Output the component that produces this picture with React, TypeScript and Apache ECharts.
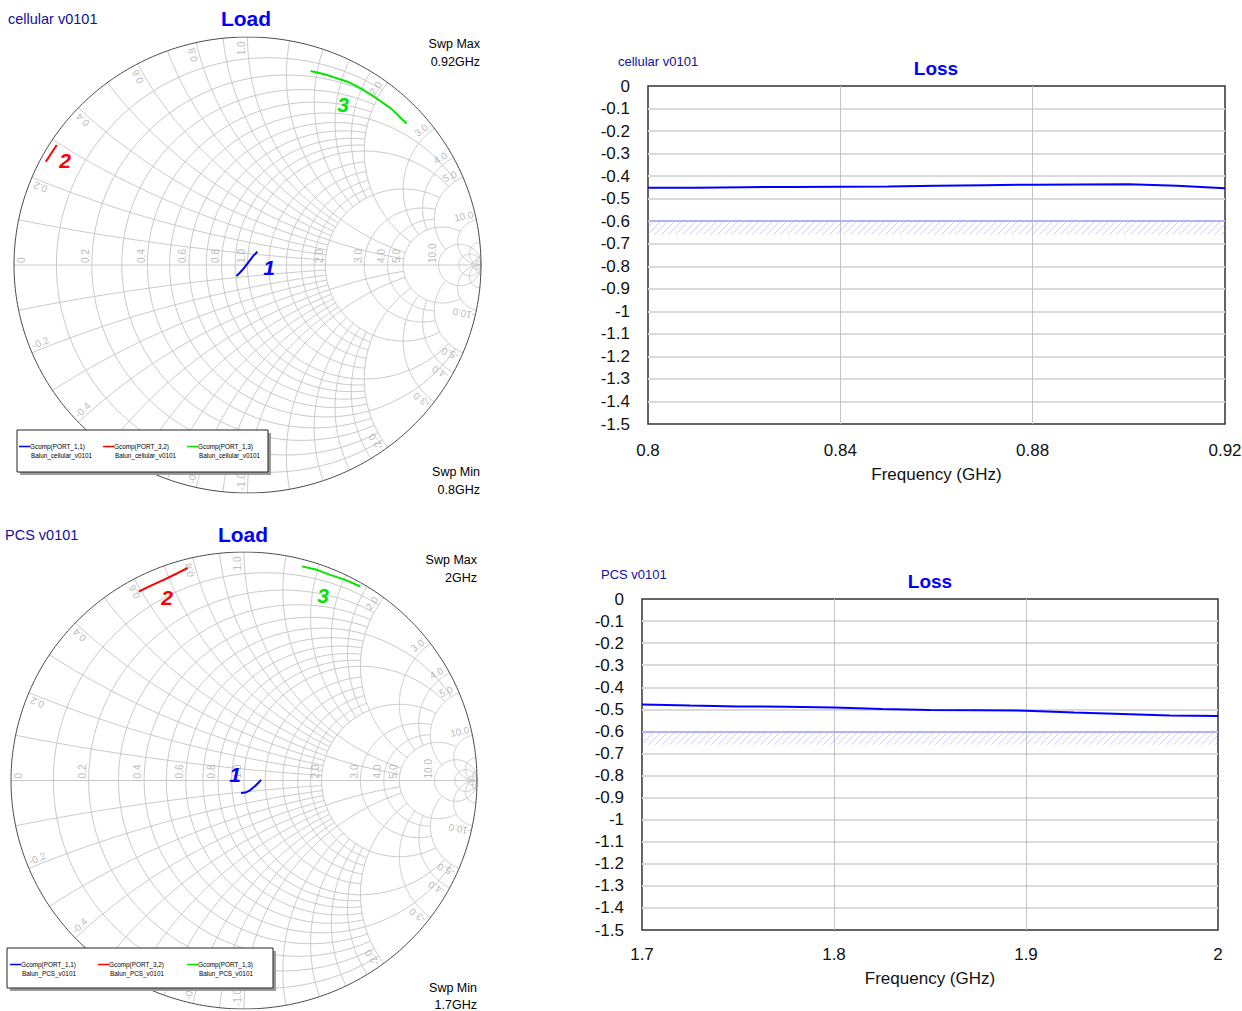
import React, { useEffect, useRef } from 'react';
import * as echarts from 'echarts';

const FONT = "'Liberation Sans', Arial, sans-serif";

// ---- Smith chart traces: reflection coefficient [re, im] ----
const CELL_G11: number[][] = [[-0.047, -0.048], [-0.033, -0.034], [-0.016, -0.015], [0.006, 0.015], [0.024, 0.039], [0.042, 0.058]];
const CELL_G32: number[][] = [[-0.864, 0.453], [-0.840, 0.490], [-0.817, 0.526]];
const CELL_G13: number[][] = [[0.270, 0.851], [0.342, 0.833], [0.428, 0.804], [0.485, 0.775], [0.542, 0.738], [0.614, 0.687], [0.681, 0.621]];

const PCS_G11: number[][] = [[-0.013, -0.055], [0.006, -0.053], [0.027, -0.042], [0.049, -0.023], [0.063, -0.009], [0.073, 0.003]];
const PCS_G32: number[][] = [[-0.452, 0.827], [-0.402, 0.852], [-0.345, 0.878], [-0.288, 0.906], [-0.242, 0.930]];
const PCS_G13: number[][] = [[0.249, 0.937], [0.313, 0.922], [0.370, 0.900], [0.435, 0.878], [0.499, 0.849]];

// ---- Loss traces ----
const CELL_FREQ = [0.80, 0.81, 0.82, 0.83, 0.84, 0.85, 0.86, 0.87, 0.88, 0.89, 0.90, 0.91, 0.92];
const CELL_LOSS = [-0.451, -0.451, -0.449, -0.448, -0.447, -0.446, -0.443, -0.440, -0.438, -0.437, -0.436, -0.443, -0.454];
const PCS_FREQ = [1.700, 1.725, 1.750, 1.775, 1.800, 1.825, 1.850, 1.875, 1.900, 1.925, 1.950, 1.975, 2.000];
const PCS_LOSS = [-0.478, -0.483, -0.487, -0.488, -0.492, -0.498, -0.503, -0.504, -0.506, -0.514, -0.521, -0.528, -0.530];
const LOSS_GOAL_TOP = -0.6;
const LOSS_GOAL_BOTTOM = -0.66;

// ---- Smith chart grid definitions: [value, extent] ----
const INF = Infinity;
const SMITH_R_GRID: number[][] = [
  [0.1, 2], [0.2, 2], [0.3, 2], [0.4, 2], [0.5, 5], [0.6, 2], [0.7, 2], [0.8, 2], [0.9, 2], [1.0, 5],
  [1.2, 2], [1.4, 2], [1.6, 2], [1.8, 2], [2, 5], [3, 5], [4, 5], [5, 10], [10, INF], [20, INF], [50, INF],
];
const SMITH_X_GRID: number[][] = [
  [0.1, 2], [0.2, 2], [0.3, 2], [0.4, 2], [0.5, 5], [0.6, 2], [0.7, 2], [0.8, 2], [0.9, 2], [1.0, 5],
  [1.2, 2], [1.4, 2], [1.6, 2], [1.8, 2], [2, 5], [3, 5], [4, 5], [5, 10], [10, INF], [20, INF], [50, INF],
];
const SMITH_R_LABELS = [0, 0.2, 0.4, 0.6, 0.8, 1, 2, 3, 4, 5, 10];
const SMITH_X_LABELS = [0.2, 0.4, 0.6, 0.8, 1, 2, 3, 4, 5, 10];

function z2g(r: number, x: number): number[] {
  const d = (r + 1) * (r + 1) + x * x;
  return [(r * r + x * x - 1) / d, (2 * x) / d];
}

function rCircle(r: number, xmax: number): number[][] {
  const c = r / (1 + r);
  const rad = 1 / (1 + r);
  let a0: number;
  if (!isFinite(xmax)) a0 = 0.0005;
  else {
    const g = z2g(r, xmax);
    a0 = Math.atan2(g[1], g[0] - c);
  }
  const a1 = 2 * Math.PI - a0;
  const pts: number[][] = [];
  const n = 180;
  for (let i = 0; i <= n; i++) {
    const a = a0 + ((a1 - a0) * i) / n;
    pts.push([c + rad * Math.cos(a), rad * Math.sin(a)]);
  }
  return pts;
}

function xArc(x: number, rmax: number): number[][] {
  const cy = 1 / x;
  const rad = Math.abs(1 / x);
  const p0 = z2g(0, x);
  const p1 = isFinite(rmax) ? z2g(rmax, x) : [1, 0];
  const b0 = Math.atan2(p0[1] - cy, p0[0] - 1);
  const b1 = Math.atan2(p1[1] - cy, p1[0] - 1);
  let d = b1 - b0;
  while (d > Math.PI) d -= 2 * Math.PI;
  while (d < -Math.PI) d += 2 * Math.PI;
  const pts: number[][] = [];
  const n = 120;
  for (let i = 0; i <= n; i++) {
    const b = b0 + (d * i) / n;
    pts.push([1 + rad * Math.cos(b), cy + rad * Math.sin(b)]);
  }
  return pts;
}

function smithGridSegments(): { coords: number[][] }[] {
  const segs: { coords: number[][] }[] = [];
  for (const [r, xm] of SMITH_R_GRID) segs.push({ coords: rCircle(r, xm) });
  for (const [x, rm] of SMITH_X_GRID) {
    segs.push({ coords: xArc(x, rm) });
    segs.push({ coords: xArc(-x, rm) });
  }
  segs.push({ coords: [[-1, 0], [1, 0]] });
  return segs;
}

function outerCircle(): { coords: number[][] }[] {
  const pts: number[][] = [];
  for (let i = 0; i <= 360; i++) {
    const a = (i / 360) * 2 * Math.PI;
    pts.push([Math.cos(a), Math.sin(a)]);
  }
  return [{ coords: pts }];
}

function rLabelItems() {
  return SMITH_R_LABELS.map((r) => {
    const g = (r - 1) / (r + 1);
    const gx = r === 0 ? -0.948 : g - 0.005;
    return { name: r === 0 ? '0' : r.toFixed(1), value: [gx, 0.009] };
  });
}

function xLabelItems() {
  const items: any[] = [];
  for (const xv of SMITH_X_LABELS) {
    for (const sgn of [1, -1]) {
      const x = xv * sgn;
      const g = z2g(0, x);
      const th = Math.atan2(g[1], g[0]);
      const ux = Math.cos(th);
      const uy = Math.sin(th);
      let nx = -Math.sin(th);
      let ny = Math.cos(th);
      if (x < 0) {
        nx = -nx;
        ny = -ny;
      }
      const deg = (th * 180) / Math.PI;
      const rot = x > 0 ? deg : deg + 180;
      items.push({
        name: (x < 0 ? '-' : '') + xv.toFixed(1),
        value: [ux * 0.95 + nx * 0.026, uy * 0.95 + ny * 0.026],
        label: { rotate: rot },
      });
    }
  }
  return items;
}

function hatchCanvas(): HTMLCanvasElement {
  const c = document.createElement('canvas');
  c.width = 7;
  c.height = 7;
  const ctx = c.getContext('2d')!;
  ctx.strokeStyle = 'rgba(140,140,255,0.42)';
  ctx.lineWidth = 1;
  ctx.beginPath();
  ctx.moveTo(0, 7);
  ctx.lineTo(7, 0);
  ctx.moveTo(-1, 1);
  ctx.lineTo(1, -1);
  ctx.moveTo(6, 8);
  ctx.lineTo(8, 6);
  ctx.stroke();
  return c;
}

const GRID_COLOR = '#c8c8c8';
const LABEL_GRAY = '#a8a8a8';

function smithSeries(idx: number, traces: number[][][]) {
  const colors = ['#0000ff', '#ff0000', '#00e600'];
  const base = { xAxisIndex: idx, yAxisIndex: idx };
  const s: any[] = [
    {
      ...base,
      type: 'lines',
      coordinateSystem: 'cartesian2d',
      polyline: true,
      silent: true,
      z: 1,
      lineStyle: { color: GRID_COLOR, width: 1, opacity: 1 },
      data: smithGridSegments(),
    },
    {
      ...base,
      type: 'lines',
      coordinateSystem: 'cartesian2d',
      polyline: true,
      silent: true,
      z: 2,
      lineStyle: { color: '#4a4a4a', width: 1, opacity: 1 },
      data: outerCircle(),
    },
    {
      ...base,
      type: 'scatter',
      silent: true,
      symbolSize: 1,
      itemStyle: { color: 'rgba(0,0,0,0)' },
      z: 3,
      label: {
        show: true,
        formatter: '{b}',
        position: 'inside',
        rotate: 90,
        align: 'left',
        verticalAlign: 'bottom',
        color: LABEL_GRAY,
        fontSize: 10,
        fontFamily: FONT,
      },
      data: rLabelItems(),
    },
    {
      ...base,
      type: 'scatter',
      silent: true,
      symbolSize: 1,
      itemStyle: { color: 'rgba(0,0,0,0)' },
      z: 3,
      label: {
        show: true,
        formatter: '{b}',
        position: 'inside',
        align: 'center',
        verticalAlign: 'middle',
        color: LABEL_GRAY,
        fontSize: 10,
        fontFamily: FONT,
      },
      data: xLabelItems(),
    },
  ];
  traces.forEach((t, i) => {
    s.push({
      ...base,
      type: 'line',
      data: t,
      showSymbol: false,
      symbol: 'none',
      silent: true,
      z: 5,
      lineStyle: { color: colors[i], width: 2 },
    });
  });
  return s;
}

function lossSeries(idx: number, freq: number[], loss: number[], pattern: HTMLCanvasElement) {
  return {
    type: 'line',
    xAxisIndex: idx,
    yAxisIndex: idx,
    data: freq.map((f, i) => [f, loss[i]]),
    showSymbol: false,
    symbol: 'none',
    silent: true,
    z: 5,
    lineStyle: { color: '#0000ff', width: 2 },
    markArea: {
      silent: true,
      itemStyle: { color: { image: pattern, repeat: 'repeat' } as any, opacity: 1 },
      data: [[{ yAxis: LOSS_GOAL_TOP }, { yAxis: LOSS_GOAL_BOTTOM }]],
    },
    markLine: {
      silent: true,
      symbol: 'none',
      label: { show: false },
      lineStyle: { color: '#a8a8ff', width: 1.5, type: 'solid' },
      data: [{ yAxis: LOSS_GOAL_TOP }],
    },
  };
}

function txt(x: number, y: number, text: string, o: any = {}) {
  return {
    type: 'text',
    x,
    y,
    z: 100,
    silent: true,
    style: {
      text,
      fill: o.fill || '#000',
      fontSize: o.fontSize || 12,
      fontWeight: o.fontWeight || 'normal',
      fontStyle: o.fontStyle || 'normal',
      fontFamily: FONT,
      align: o.align || 'left',
      verticalAlign: 'middle',
    },
  };
}

function legendBox(x: number, y: number, w: number, h: number, entries: { dx: number; color: string; l1: string; l2: string }[]) {
  const els: any[] = [
    { type: 'rect', z: 100, silent: true, shape: { x: x + 3, y: y + 3, width: w, height: h }, style: { fill: '#9a9a9a' } },
    { type: 'rect', z: 101, silent: true, shape: { x, y, width: w, height: h }, style: { fill: '#fff', stroke: '#222', lineWidth: 1 } },
  ];
  for (const e of entries) {
    els.push({
      type: 'line',
      z: 102,
      silent: true,
      shape: { x1: x + e.dx, y1: y + 16.5, x2: x + e.dx + 11, y2: y + 16.5 },
      style: { stroke: e.color, lineWidth: 1.5 },
    });
    els.push({ ...txt(x + e.dx + 11, y + 16.5, e.l1, { fontSize: 6.4 }), z: 102 });
    els.push({ ...txt(x + e.dx + 12, y + 25, e.l2, { fontSize: 6.4 }), z: 102 });
  }
  return els;
}

function buildOption() {
  const pattern = hatchCanvas();
  const smithAxis = (gridIndex: number) => ({ type: 'value', gridIndex, min: -1, max: 1, show: false });
  const lossX = (gridIndex: number, min: number, max: number, interval: number, margin: number, nameGap: number) => ({
    type: 'value',
    gridIndex,
    min,
    max,
    interval,
    name: 'Frequency (GHz)',
    nameLocation: 'middle',
    nameGap,
    nameTextStyle: { fontSize: 17, fontFamily: FONT, color: '#111' },
    axisLine: { show: false },
    axisTick: { show: false },
    axisLabel: { fontSize: 17, fontFamily: FONT, color: '#111', margin },
    splitLine: { show: true, showMinLine: false, showMaxLine: false, lineStyle: { color: '#c4c4c4', width: 1 } },
  });
  const lossY = (gridIndex: number) => ({
    type: 'value',
    gridIndex,
    min: -1.5,
    max: 0,
    interval: 0.1,
    axisLine: { show: false },
    axisTick: { show: false },
    axisLabel: { fontSize: 17, fontFamily: FONT, color: '#111', margin: 18 },
    splitLine: { show: true, showMinLine: false, showMaxLine: false, lineStyle: { color: '#dadada', width: 2 } },
  });

  const graphic: any[] = [
    // top-left Smith chart
    txt(8, 19, 'cellular v0101', { fill: '#10109a', fontSize: 14.5 }),
    txt(246, 18, 'Load', { fill: '#0000ff', fontSize: 21, fontWeight: 'bold', align: 'center' }),
    txt(480, 43.5, 'Swp Max', { fontSize: 12.5, align: 'right' }),
    txt(480, 61.5, '0.92GHz', { fontSize: 12.5, align: 'right' }),
    txt(480, 471.5, 'Swp Min', { fontSize: 12.5, align: 'right' }),
    txt(480, 489.5, '0.8GHz', { fontSize: 12.5, align: 'right' }),
    txt(269, 267, '1', { fill: '#0000ff', fontSize: 21, fontWeight: 'bold', fontStyle: 'italic', align: 'center' }),
    txt(65, 160, '2', { fill: '#ff0000', fontSize: 21, fontWeight: 'bold', fontStyle: 'italic', align: 'center' }),
    txt(343, 104, '3', { fill: '#00e600', fontSize: 21, fontWeight: 'bold', fontStyle: 'italic', align: 'center' }),
    ...legendBox(17, 430, 251, 42, [
      { dx: 2, color: '#0000ff', l1: 'Gcomp(PORT_1,1)', l2: 'Balun_cellular_v0101' },
      { dx: 86, color: '#ff0000', l1: 'Gcomp(PORT_3,2)', l2: 'Balun_cellular_v0101' },
      { dx: 170, color: '#00e600', l1: 'Gcomp(PORT_1,3)', l2: 'Balun_cellular_v0101' },
    ]),
    // bottom-left Smith chart
    txt(5, 535, 'PCS v0101', { fill: '#10109a', fontSize: 14.5 }),
    txt(243, 534, 'Load', { fill: '#0000ff', fontSize: 21, fontWeight: 'bold', align: 'center' }),
    txt(477, 559.5, 'Swp Max', { fontSize: 12.5, align: 'right' }),
    txt(477, 577.5, '2GHz', { fontSize: 12.5, align: 'right' }),
    txt(477, 987.5, 'Swp Min', { fontSize: 12.5, align: 'right' }),
    txt(477, 1005, '1.7GHz', { fontSize: 12.5, align: 'right' }),
    txt(235, 774, '1', { fill: '#0000ff', fontSize: 21, fontWeight: 'bold', fontStyle: 'italic', align: 'center' }),
    txt(167, 597, '2', { fill: '#ff0000', fontSize: 21, fontWeight: 'bold', fontStyle: 'italic', align: 'center' }),
    txt(323, 595, '3', { fill: '#00e600', fontSize: 21, fontWeight: 'bold', fontStyle: 'italic', align: 'center' }),
    ...legendBox(7, 948, 266, 40, [
      { dx: 3, color: '#0000ff', l1: 'Gcomp(PORT_1,1)', l2: 'Balun_PCS_v0101' },
      { dx: 91, color: '#ff0000', l1: 'Gcomp(PORT_3,2)', l2: 'Balun_PCS_v0101' },
      { dx: 180, color: '#00e600', l1: 'Gcomp(PORT_1,3)', l2: 'Balun_PCS_v0101' },
    ]),
    // Loss charts
    txt(618, 61, 'cellular v0101', { fill: '#10109a', fontSize: 13 }),
    txt(936, 68, 'Loss', { fill: '#0000ff', fontSize: 19, fontWeight: 'bold', align: 'center' }),
    txt(601, 574, 'PCS v0101', { fill: '#10109a', fontSize: 13 }),
    txt(930, 581, 'Loss', { fill: '#0000ff', fontSize: 19, fontWeight: 'bold', align: 'center' }),
  ];

  const gridBox = { show: true, borderColor: '#333', borderWidth: 1.5, backgroundColor: 'transparent', outerBoundsMode: 'none' };

  return {
    animation: false,
    backgroundColor: '#ffffff',
    textStyle: { fontFamily: FONT },
    grid: [
      { left: 14, top: 37, width: 467, height: 456, outerBoundsMode: 'none' },
      { left: 11, top: 552, width: 466, height: 457, outerBoundsMode: 'none' },
      { left: 648, top: 86, width: 577, height: 338, ...gridBox },
      { left: 642, top: 599, width: 576, height: 331, ...gridBox },
    ],
    xAxis: [smithAxis(0), smithAxis(1), lossX(2, 0.8, 0.92, 0.04, 18, 42), lossX(3, 1.7, 2, 0.1, 16, 40)],
    yAxis: [smithAxis(0), smithAxis(1), lossY(2), lossY(3)],
    series: [
      ...smithSeries(0, [CELL_G11, CELL_G32, CELL_G13]),
      ...smithSeries(1, [PCS_G11, PCS_G32, PCS_G13]),
      lossSeries(2, CELL_FREQ, CELL_LOSS, pattern),
      lossSeries(3, PCS_FREQ, PCS_LOSS, pattern),
    ],
    graphic,
  };
}

export default function App() {
  const ref = useRef<HTMLDivElement>(null);
  useEffect(() => {
    const chart = echarts.init(ref.current!, null, { renderer: 'svg' });
    chart.setOption(buildOption() as any);
    return () => chart.dispose();
  }, []);
  return (
    <div
      ref={ref}
      style={{ position: 'fixed', left: 0, top: 0, width: 1242, height: 1011, background: '#fff' }}
    />
  );
}
